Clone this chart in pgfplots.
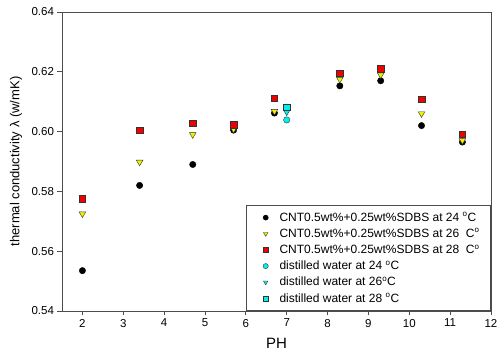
\documentclass[border=0pt]{standalone}
\usepackage{pgfplots}
\pgfplotsset{compat=1.18}
\usepackage{fontspec}
\setmainfont{Liberation Sans}
\definecolor{aqua}{RGB}{0,240,240}
\definecolor{yel}{RGB}{240,240,0}
\definecolor{rd}{RGB}{240,0,0}
\pgfplotsset{mylg/.style={legend image code/.code={\path (-0.34cm,0) (0.41cm,0); \draw[##1] plot coordinates {(0cm,0cm)};}}}
\begin{document}
\begin{tikzpicture}
\begin{axis}[
  scale only axis, width=429pt, height=299pt,
  xmin=1.5, xmax=12, ymin=0.54, ymax=0.64,
  xtick={2,3,...,12}, ytick={0.54,0.56,...,0.64},
  yticklabel style={/pgf/number format/fixed, /pgf/number format/fixed zerofill, /pgf/number format/precision=2},
  /pgf/number format/assume math mode=true,
  tick label style={font=\fontsize{11.5}{13}\selectfont},
  xlabel={PH}, ylabel={thermal conductivity λ (w/mK)},
  xlabel style={font=\fontsize{15}{17}\selectfont, at={(axis description cs:0.5,-0.107)}, anchor=center},
  ylabel style={font=\fontsize{13}{15}\selectfont, at={(axis description cs:-0.107,0.5)}, anchor=center},
  tick align=outside, xtick pos=bottom, ytick pos=left,
  major tick length=4.5pt,
  major tick style={black!70, line width=0.8pt},
  axis line style={black!70, line width=0.8pt},
  legend style={at={(1,0)}, anchor=south east, font=\fontsize{12}{14}\selectfont, draw=black!70, line width=0.8pt, row sep=2pt, inner xsep=9pt, inner ysep=5pt, cells={anchor=west}},
  legend cell align=left,
  every axis plot/.append style={only marks, line width=0.4pt},
  legend image post style={mark size=2.6pt},
]
\addplot[mylg, mark=*, mark size=3.2pt, fill=black, draw=black] coordinates {
(2,0.5535) (3.4,0.582) (4.7,0.589) (5.7,0.6005) (6.7,0.6062) (8.3,0.6153) (9.3,0.6170) (10.3,0.6020) (11.3,0.5965)};
\addlegendentry{CNT0.5wt\%+0.25wt\%SDBS at 24 $^{\mathrm{o}}$C}
\addplot[mylg, mark=triangle*, mark options={rotate=180, fill=yel, draw=black!80}, mark size=3.8pt] coordinates {
(2,0.5725) (3.4,0.5898) (4.7,0.5990) (5.7,0.6008) (6.7,0.6068) (8.3,0.6175) (9.3,0.6190) (10.3,0.6060) (11.3,0.5970)};
\addlegendentry{CNT0.5wt\%+0.25wt\%SDBS at 26~~C$^{\mathrm{o}}$}
\addplot[mylg, mark=square*, mark options={fill=rd, draw=black!80}, mark size=3.2pt] coordinates {
(2,0.5775) (3.4,0.6005) (4.7,0.6028) (5.7,0.6023) (6.7,0.6112) (8.3,0.6195) (9.3,0.6210) (10.3,0.6108) (11.3,0.5992)};
\addlegendentry{CNT0.5wt\%+0.25wt\%SDBS at 28~~C$^{\mathrm{o}}$}
\addplot[mylg, mark=*, mark options={fill=aqua, draw=black!80}, mark size=3.2pt] coordinates {(7.0,0.6039)};
\addlegendentry{distilled water at 24 $^{\mathrm{o}}$C}
\addplot[mylg, mark=triangle*, mark options={rotate=180, fill=aqua, draw=black!80}, mark size=3.8pt] coordinates {(7.0,0.6066)};
\addlegendentry{distilled water at 26$^{\mathrm{o}}$C}
\addplot[mylg, mark=square*, mark options={fill=aqua, draw=black!80}, mark size=3.2pt] coordinates {(7.0,0.6082)};
\addlegendentry{distilled water at 28 $^{\mathrm{o}}$C}
\end{axis}
\pgfresetboundingbox
\path (-62pt,-40pt) rectangle (437pt,311pt);
\end{tikzpicture}
\end{document}
